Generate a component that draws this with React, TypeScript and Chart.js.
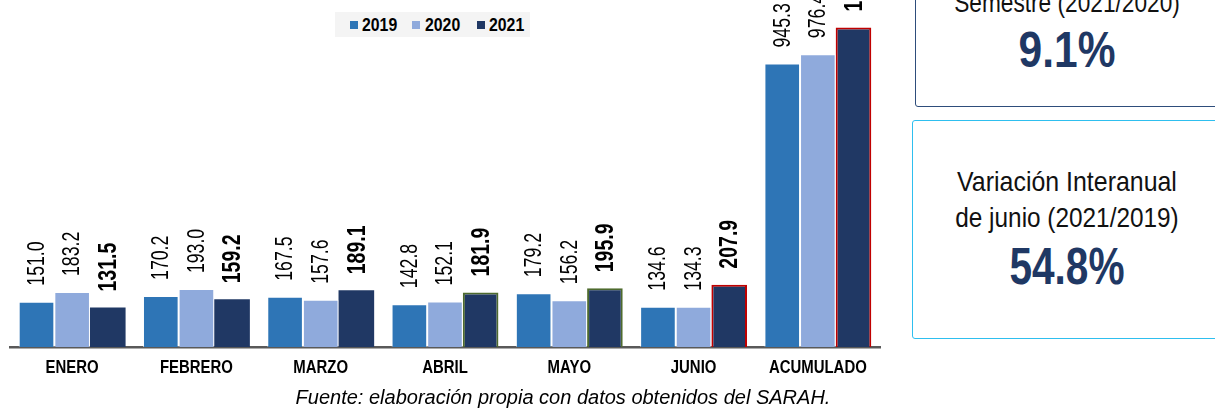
import React, { useEffect, useRef } from "react";
import { Chart, registerables } from "chart.js";

Chart.register(...registerables);

const categories = ["ENERO", "FEBRERO", "MARZO", "ABRIL", "MAYO", "JUNIO", "ACUMULADO"];
const values2019 = [151.0, 170.2, 167.5, 142.8, 179.2, 134.6, 945.3];
const values2020 = [183.2, 193.0, 157.6, 152.1, 156.2, 134.3, 976.4];
const values2021 = [131.5, 159.2, 189.1, 181.9, 195.9, 207.9, 1065.5];
const seriesLabels = ["2019", "2020", "2021"];

const FONT = "'Liberation Sans', Arial, sans-serif";
const C2019 = "#2E75B6";
const C2020 = "#8FAADC";
const C2021 = "#203864";
const border2021 = [C2021, C2021, C2021, "#4E6B2E", "#4E6B2E", "#C00000", "#C00000"];
const borderW2021 = [0, 0, 0, 2, 2, 2, 2];

const fmt = (v: number) =>
  v.toLocaleString("en-US", { minimumFractionDigits: 1, maximumFractionDigits: 1 });

const labelPlugin = {
  id: "rotLabels",
  afterDatasetsDraw(chart: any) {
    const ctx = chart.ctx;
    chart.data.datasets.forEach((ds: any, di: number) => {
      const meta = chart.getDatasetMeta(di);
      const bold = di === 2;
      meta.data.forEach((el: any, i: number) => {
        const v = ds.data[i];
        ctx.save();
        ctx.translate(el.x, el.y - 16);
        ctx.rotate(-Math.PI / 2);
        ctx.scale(bold ? 0.75 : 0.77, 1);
        ctx.fillStyle = "#000";
        ctx.font = `${bold ? "bold 26px" : "23px"} ${FONT}`;
        ctx.textAlign = "left";
        ctx.textBaseline = "middle";
        ctx.fillText(fmt(v), 0, 1);
        ctx.restore();
      });
    });
  },
  afterDraw(chart: any) {
    const ctx = chart.ctx;
    const xs = chart.scales.x;
    categories.forEach((c, i) => {
      const x = xs.getPixelForTick(i);
      ctx.save();
      ctx.translate(x, 368.5);
      ctx.scale(0.83, 1);
      ctx.fillStyle = "#000";
      ctx.font = `bold 18px ${FONT}`;
      ctx.textAlign = "center";
      ctx.textBaseline = "middle";
      ctx.fillText(c, 0, 0);
      ctx.restore();
    });
  },
};

const lineStyle = (top: number, size: number, sx: number, bold: boolean, color: string): React.CSSProperties => ({
  position: "absolute",
  left: 917,
  width: 300,
  top,
  textAlign: "center",
  fontSize: size,
  lineHeight: `${size}px`,
  fontWeight: bold ? "bold" : "normal",
  color,
  whiteSpace: "nowrap",
  transform: `scaleX(${sx})`,
  transformOrigin: "50% 50%",
});

export default function App() {
  const ref = useRef<HTMLCanvasElement | null>(null);
  useEffect(() => {
    if (!ref.current) return;
    const chart = new Chart(ref.current, {
      type: "bar",
      data: {
        labels: categories,
        datasets: [
          {
            label: seriesLabels[0],
            data: values2019,
            backgroundColor: C2019,
            borderColor: "rgba(255,255,255,0.55)",
            borderWidth: 1,
          },
          {
            label: seriesLabels[1],
            data: values2020,
            backgroundColor: C2020,
            borderColor: "rgba(255,255,255,0.55)",
            borderWidth: 1,
          },
          {
            label: seriesLabels[2],
            data: values2021,
            backgroundColor: C2021,
            borderColor: border2021,
            borderWidth: borderW2021,
          },
        ],
      },
      options: {
        responsive: false,
        animation: false,
        devicePixelRatio: 1,
        layout: { padding: { left: 10, right: 20, top: 0, bottom: 0 } },
        datasets: { bar: { categoryPercentage: 0.86, barPercentage: 1.0 } },
        plugins: { legend: { display: false }, tooltip: { enabled: false } },
        scales: {
          x: {
            grid: { display: false, drawTicks: false },
            border: { display: true, color: "#595959", width: 2.5 },
            ticks: { display: false },
            afterFit: (s: any) => {
              s.height = 63;
            },
          },
          y: { display: false, min: 0, max: 1157 },
        },
      },
      plugins: [labelPlugin],
    } as any);
    return () => chart.destroy();
  }, []);

  const legendItems = [
    { c: C2019, t: seriesLabels[0] },
    { c: C2020, t: seriesLabels[1] },
    { c: C2021, t: seriesLabels[2] },
  ];

  return (
    <div
      style={{
        position: "absolute",
        left: 0,
        top: 0,
        width: 1215,
        height: 410,
        overflow: "hidden",
        background: "#fff",
        fontFamily: FONT,
      }}
    >
      <canvas ref={ref} width={900} height={410} style={{ position: "absolute", left: 0, top: 0 }} />
      {/* legend */}
      <div
        style={{
          position: "absolute",
          left: 335,
          top: 12,
          width: 195,
          height: 25,
          background: "#F4F4F4",
        }}
      />
      {legendItems.map((it, i) => (
        <React.Fragment key={it.t}>
          <span
            style={{
              position: "absolute",
              left: [350, 412, 477][i],
              top: 21,
              width: 8,
              height: 8,
              background: it.c,
            }}
          />
          <span
            style={{
              position: "absolute",
              left: [362, 425, 489][i],
              top: 16,
              fontWeight: "bold",
              fontSize: 18,
              lineHeight: "18px",
              color: "#000",
              transform: "scaleX(0.88)",
              transformOrigin: "0 50%",
            }}
          >
            {it.t}
          </span>
        </React.Fragment>
      ))}
      {/* source */}
      <div
        style={{
          position: "absolute",
          left: 200,
          width: 726,
          top: 387,
          textAlign: "center",
          fontStyle: "italic",
          fontSize: 20,
          lineHeight: "20px",
          color: "#000",
          whiteSpace: "nowrap",
        }}
      >
        Fuente: elaboración propia con datos obtenidos del SARAH.
      </div>
      {/* box 1 */}
      <div
        style={{
          position: "absolute",
          left: 915,
          top: -80,
          width: 320,
          height: 187,
          border: "1.5px solid #2E4D7B",
          borderRadius: 3,
          boxSizing: "border-box",
        }}
      />
      <div style={lineStyle(-11, 28, 0.81, false, "#111")}>Semestre (2021/2020)</div>
      <div style={lineStyle(25, 50, 0.85, true, "#1F3864")}>9.1%</div>
      {/* box 2 */}
      <div
        style={{
          position: "absolute",
          left: 912,
          top: 120,
          width: 320,
          height: 219,
          border: "1.5px solid #2EBFEF",
          borderRadius: 3,
          boxSizing: "border-box",
        }}
      />
      <div style={lineStyle(168, 28, 0.89, false, "#111")}>Variación Interanual</div>
      <div style={lineStyle(204, 28, 0.87, false, "#111")}>de junio (2021/2019)</div>
      <div style={lineStyle(240, 52, 0.78, true, "#1F3864")}>54.8%</div>
    </div>
  );
}
